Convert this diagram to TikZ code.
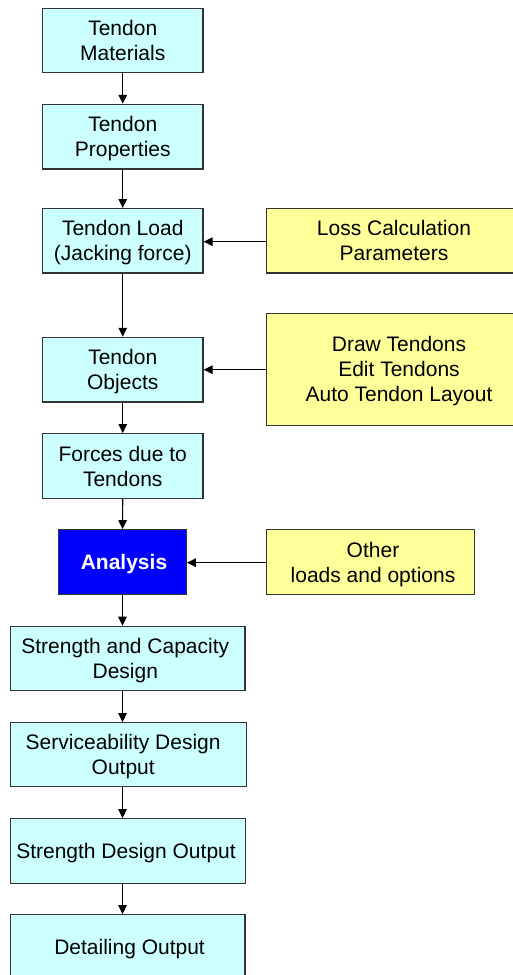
\documentclass[tikz,border=0pt]{standalone}
\usepackage{fontspec}
\setmainfont{Liberation Sans}
\usetikzlibrary{arrows.meta}
\definecolor{stepfill}{HTML}{CCFFFF}
\definecolor{inputfill}{HTML}{FFFF99}
\definecolor{edgegray}{HTML}{333333}
\definecolor{solveblue}{HTML}{0000FF}
\tikzset{
  box/.style={draw=edgegray, line width=1.2pt, align=center,
    font=\fontsize{21}{25}\selectfont, inner sep=0pt},
  stepbox/.style={box, fill=stepfill},
  inputbox/.style={box, fill=inputfill},
  solvebox/.style={box, fill=solveblue, text=white,
    font=\fontsize{21}{25}\selectfont\bfseries},
  % text blocks of one, two or three lines, set so the caps sit centred
  oneline/.style={text height=15.3pt, text depth=0pt},
  twolines/.style={text height=40.3pt, text depth=0pt},
  threelines/.style={text height=65.3pt, text depth=0pt},
  arr/.style={line width=1.2pt, draw=black,
    -{Triangle[length=9pt,width=8.5pt]}},
}
\begin{document}
\begin{tikzpicture}[x=1pt,y=-1pt]
\useasboundingbox (0,0) rectangle (512,975);
% main column of steps
\node[stepbox, twolines, minimum width=160.5, minimum height=64] (mat) at (122.75,40.3) {Tendon\\Materials};
\node[stepbox, twolines, minimum width=160.5, minimum height=64.7] (prop) at (122.75,136.7) {Tendon\\Properties};
\node[stepbox, twolines, minimum width=160.5, minimum height=64.3] (load) at (122.75,240.8) {Tendon Load\\(Jacking force)};
\node[stepbox, twolines, minimum width=160.5, minimum height=64.7] (obj) at (122.75,369.7) {Tendon\\Objects};
\node[stepbox, twolines, minimum width=160.5, minimum height=64.6] (forces) at (122.75,466) {Forces due to\\Tendons};
\node[solvebox, oneline, minimum width=127.6, minimum height=64.6] (ana) at (122.5,562) {\hspace*{3pt}Analysis};
\node[stepbox, twolines, minimum width=234.3, minimum height=64.4] (cap) at (127.8,658.5) {Strength and Capacity\hspace*{5pt}\\Design\hspace*{5pt}};
\node[stepbox, twolines, minimum width=236, minimum height=64] (serv) at (128.7,754.7) {Serviceability Design\hspace*{11pt}\\Output\hspace*{11pt}};
\node[stepbox, oneline, minimum width=234.6, minimum height=65] (sdo) at (128,851.2) {Strength Design Output\hspace*{4pt}};
\node[stepbox, oneline, minimum width=234.3, minimum height=64.6] (det) at (127.8,947) {\hspace*{3.5pt}Detailing Output};
% side inputs
\node[inputbox, twolines, minimum width=255.5, minimum height=64.3] (loss) at (394,240.8) {Loss Calculation\\Parameters};
\node[inputbox, threelines, minimum width=265, minimum height=112] (draw) at (399,369.3) {Draw Tendons\\Edit Tendons\\Auto Tendon Layout};
\node[inputbox, twolines, minimum width=208, minimum height=64.6] (other) at (370.3,562) {\hspace*{5.4pt}Other\\\hspace*{5.4pt}loads and options};
% flow down the column
\draw[arr] (mat) -- (prop);
\draw[arr] (prop) -- (load);
\draw[arr] (load) -- (obj);
\draw[arr] (obj) -- (forces);
\draw[arr] (forces) -- (ana);
\draw[arr] (ana.south) -- (ana.south |- cap.north);
\draw[arr] (ana.south |- cap.south) -- (ana.south |- serv.north);
\draw[arr] (ana.south |- serv.south) -- (ana.south |- sdo.north);
\draw[arr] (ana.south |- sdo.south) -- (ana.south |- det.north);
% inputs feeding the steps
\draw[arr] (loss.west |- 0,241.7) -- (load.east |- 0,241.7);
\draw[arr] (draw.west |- obj.east) -- (obj.east);
\draw[arr] (other.west |- 0,562.7) -- (ana.east |- 0,562.7);
\end{tikzpicture}
\end{document}
